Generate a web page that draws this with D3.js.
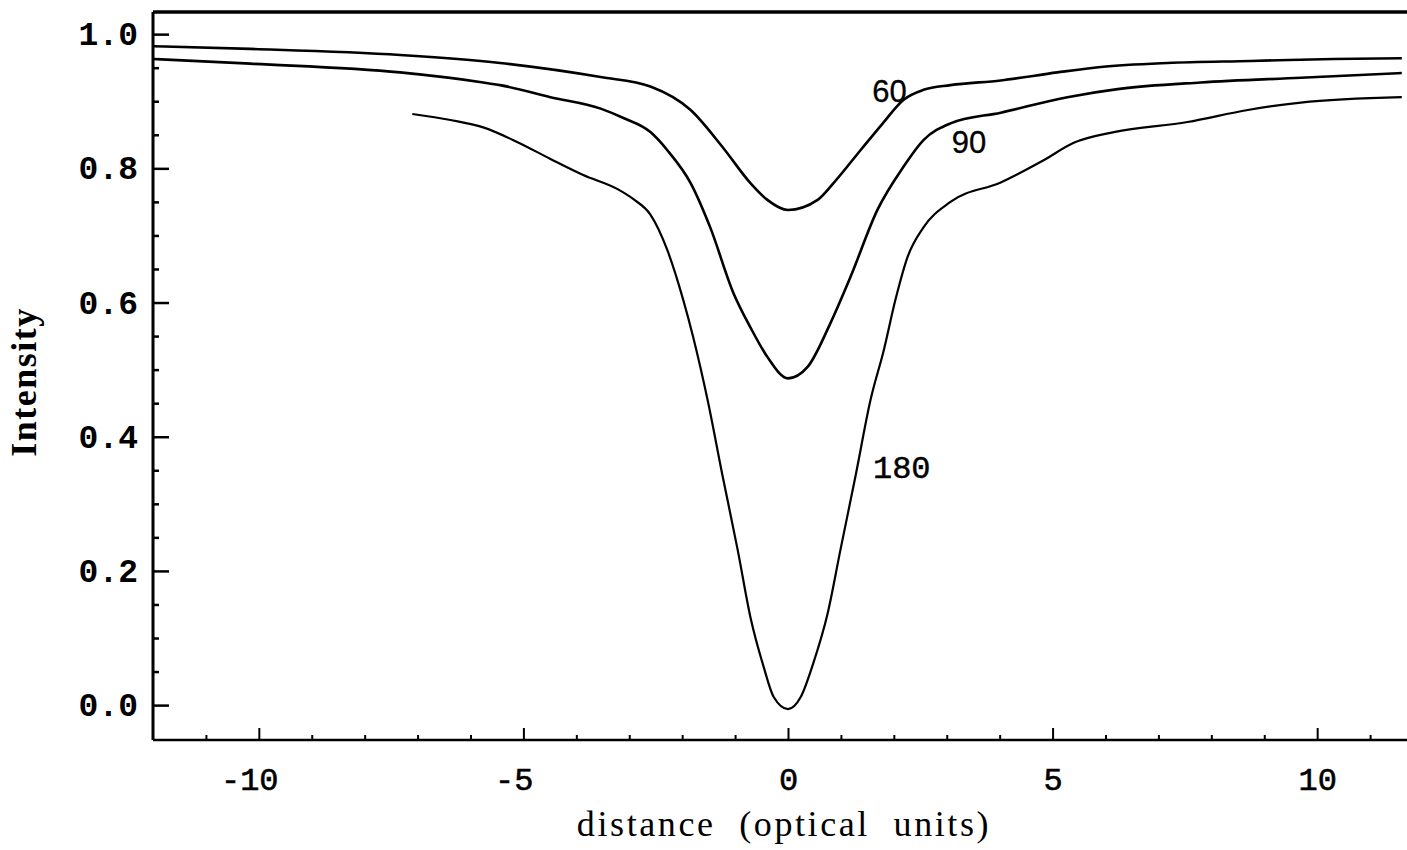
<!DOCTYPE html>
<html>
<head>
<meta charset="utf-8">
<script src="https://cdn.jsdelivr.net/npm/d3@7/dist/d3.min.js"></script>
<style>
  html, body { margin: 0; padding: 0; background: #fff; overflow: hidden; }
  svg { display: block; }
</style>
</head>
<body>
<svg id="chart" width="1407" height="850"></svg>
<script>
// Line profiles of intensity versus distance for three angles
const seriesNames = ["60", "90", "180"];

const dist60 = [-12, -10.16, -7.33, -5.44, -3.54, -2.6, -1.84, -1.22, -0.71, -0.39, 0, 0.56, 0.86, 1.37, 1.78, 2.18, 2.56, 3.07, 4.02, 5.09, 5.91, 7.17, 8.74, 10.31, 11.6];
const int60  = [0.982, 0.978, 0.969, 0.957, 0.936, 0.922, 0.887, 0.830, 0.778, 0.753, 0.738, 0.753, 0.778, 0.827, 0.866, 0.902, 0.917, 0.924, 0.931, 0.943, 0.951, 0.957, 0.960, 0.963, 0.964];

const dist90 = [-12, -10.16, -7.33, -5.76, -5.44, -4.49, -3.54, -3.11, -2.6, -2.28, -1.84, -1.47, -1.03, -0.71, -0.39, 0, 0.37, 0.8, 1.18, 1.69, 2.18, 2.56, 3.07, 4.02, 5.28, 6.23, 7.8, 9.69, 11.6];
const int90  = [0.963, 0.956, 0.943, 0.928, 0.924, 0.906, 0.889, 0.875, 0.854, 0.827, 0.778, 0.712, 0.614, 0.563, 0.519, 0.487, 0.504, 0.569, 0.638, 0.738, 0.802, 0.842, 0.867, 0.883, 0.906, 0.918, 0.928, 0.935, 0.942];

const dist180 = [-7.1, -6.38, -5.76, -5.11, -4.49, -3.87, -3.22, -2.92, -2.6, -2.28, -1.98, -1.79, -1.52, -1.24, -0.95, -0.71, -0.46, -0.27, 0, 0.24, 0.48, 0.75, 0.99, 1.28, 1.56, 1.81, 2.03, 2.26, 2.56, 3.07, 4.02, 4.83, 5.4, 6.16, 7.55, 8.69, 9.69, 11.6];
const int180  = [0.881, 0.872, 0.861, 0.839, 0.814, 0.790, 0.769, 0.754, 0.731, 0.678, 0.604, 0.548, 0.455, 0.343, 0.231, 0.131, 0.057, 0.012, -0.006, 0.012, 0.063, 0.137, 0.231, 0.343, 0.455, 0.529, 0.604, 0.668, 0.712, 0.750, 0.779, 0.812, 0.838, 0.854, 0.869, 0.887, 0.898, 0.906];

// Curve label anchors, in data units
const labelDist = [1.92, 3.42, 2.15];
const labelInt  = [0.899, 0.823, 0.338];

const xMajorTicks = [-10, -5, 0, 5, 10];
const xMinorTicks = [-11, -9, -8, -7, -6, -4, -3, -2, -1, 1, 2, 3, 4, 6, 7, 8, 9, 11];
const yMajorTicks = [0.0, 0.2, 0.4, 0.6, 0.8, 1.0];
const yMinorTicks = [0.05, 0.1, 0.15, 0.25, 0.3, 0.35, 0.45, 0.5, 0.55, 0.65, 0.7, 0.75, 0.85, 0.9, 0.95];

const svg = d3.select("#chart");

const plotLeft = 153, plotTop = 12, plotBottom = 740, plotRight = 1423;
const x = d3.scaleLinear().domain([-12, 12]).range([plotLeft, plotRight]);
const y = d3.scaleLinear().domain([-0.052, 1.033]).range([plotBottom, plotTop]);

const mono = "'Liberation Mono', 'Courier New', monospace";
const serif = "'Liberation Serif', 'Times New Roman', serif";
const sans = "'Liberation Sans', Arial, sans-serif";

// Y axis: majors with labels, minors unlabeled; ticks point inward
const yAxis = svg.append("g").attr("transform", `translate(${plotLeft},0)`)
  .call(d3.axisLeft(y).tickValues(yMajorTicks).tickFormat(d3.format(".1f"))
    .tickSizeInner(-16).tickSizeOuter(0).tickPadding(15));
yAxis.select(".domain").remove();
yAxis.selectAll(".tick line").attr("stroke", "#000").attr("stroke-width", 2.5);
yAxis.selectAll(".tick text")
  .attr("font-family", mono).attr("font-weight", "bold").attr("font-size", 33).attr("fill", "#000");

const yMinor = svg.append("g").attr("transform", `translate(${plotLeft},0)`)
  .call(d3.axisLeft(y).tickValues(yMinorTicks).tickFormat("").tickSizeInner(-6).tickSizeOuter(0));
yMinor.select(".domain").remove();
yMinor.selectAll(".tick line").attr("stroke", "#000").attr("stroke-width", 2.5);

// X axis
const xAxis = svg.append("g").attr("transform", `translate(0,${plotBottom})`)
  .call(d3.axisBottom(x).tickValues(xMajorTicks)
    .tickFormat(d => d < 0 ? "-" + Math.abs(d) : String(d))
    .tickSizeInner(-12).tickSizeOuter(0).tickPadding(27));
xAxis.select(".domain").remove();
xAxis.selectAll(".tick line").attr("stroke", "#000").attr("stroke-width", 2);
xAxis.selectAll(".tick text")
  .attr("font-family", mono).attr("font-size", 32).attr("fill", "#000")
  .attr("stroke", "#000").attr("stroke-width", 0.6)
  .attr("dx", d => d < 0 ? "-0.3em" : 0);

const xMinor = svg.append("g").attr("transform", `translate(0,${plotBottom})`)
  .call(d3.axisBottom(x).tickValues(xMinorTicks).tickFormat("").tickSizeInner(-5).tickSizeOuter(0));
xMinor.select(".domain").remove();
xMinor.selectAll(".tick line").attr("stroke", "#000").attr("stroke-width", 2);

// Frame: left, top and bottom lines
svg.append("line").attr("x1", plotLeft).attr("x2", plotLeft).attr("y1", plotTop).attr("y2", plotBottom)
  .attr("stroke", "#000").attr("stroke-width", 3);
svg.append("line").attr("x1", plotLeft).attr("x2", plotRight).attr("y1", plotTop).attr("y2", plotTop)
  .attr("stroke", "#000").attr("stroke-width", 3.5);
svg.append("line").attr("x1", plotLeft).attr("x2", plotRight).attr("y1", plotBottom).attr("y2", plotBottom)
  .attr("stroke", "#000").attr("stroke-width", 2.5);

// Curves
const series = [
  { name: seriesNames[0], d: dist60, v: int60, w: 2.6 },
  { name: seriesNames[1], d: dist90, v: int90, w: 2.6 },
  { name: seriesNames[2], d: dist180, v: int180, w: 2.2 }
];
const line = d3.line()
  .x(p => x(p[0])).y(p => y(p[1]))
  .curve(d3.curveMonotoneX);

svg.append("g").selectAll("path").data(series).join("path")
  .attr("d", s => line(s.d.map((d, i) => [d, s.v[i]])))
  .attr("fill", "none").attr("stroke", "#000")
  .attr("stroke-width", s => s.w).attr("stroke-linejoin", "round");

// Curve labels
svg.append("g").selectAll("text").data(seriesNames).join("text")
  .attr("x", (d, i) => x(labelDist[i]))
  .attr("y", (d, i) => y(labelInt[i]))
  .attr("text-anchor", "middle")
  .attr("font-family", (d, i) => i === 2 ? mono : sans)
  .attr("font-size", (d, i) => i === 2 ? 32 : 31)
  .attr("fill", "#000")
  .attr("stroke", "#000").attr("stroke-width", (d, i) => i === 2 ? 0.5 : 0.3)
  .text(d => d);

// Axis titles
svg.append("text")
  .attr("x", 784).attr("y", 836)
  .attr("text-anchor", "middle")
  .attr("font-family", serif).attr("font-size", 36)
  .attr("letter-spacing", "2.6px").attr("word-spacing", "12px")
  .attr("fill", "#000")
  .text("distance (optical units)");

svg.append("text")
  .attr("transform", "translate(36,382) rotate(-90)")
  .attr("text-anchor", "middle")
  .attr("font-family", serif).attr("font-weight", "bold").attr("font-size", 36)
  .attr("letter-spacing", "1.5px")
  .attr("fill", "#000")
  .text("Intensity");
</script>
</body>
</html>
